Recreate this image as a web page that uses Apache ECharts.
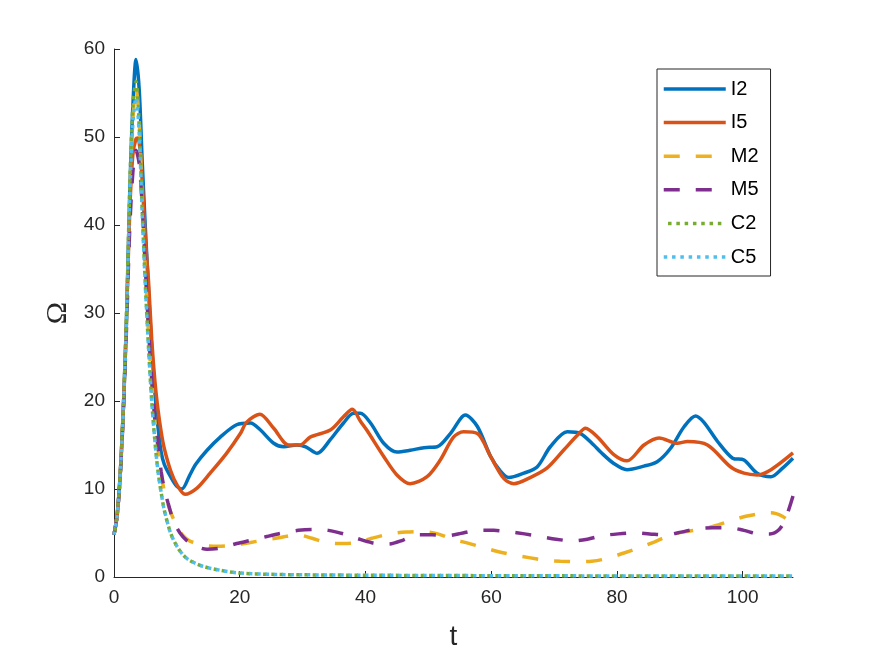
<!DOCTYPE html>
<html>
<head>
<meta charset="utf-8">
<script src="https://cdn.jsdelivr.net/npm/echarts@6/dist/echarts.min.js"></script>
<style>
html,body{margin:0;padding:0;background:#fff;}
#c{width:875px;height:656px;}
</style>
</head>
<body>
<div id="c"></div>
<script>
const seriesNames = ['I2','I5','M2','M5','C2','C5'];
const xTicks = [0,20,40,60,80,100];

const tI2 = [0,0.5,1,1.5,2,2.5,3,3.5,4,4.5,5,5.5,6,6.5,7,7.5,8,9,10,10.8,12,13,14.8,16.9,19.5,21.7,23.3,25.4,27,29.1,30.5,32.3,34.4,36.5,38.1,39.2,40.8,42.9,45,47.1,49.3,51.4,53.5,55.9,57.8,59.9,61.5,62.8,65.2,67.3,69.4,72.1,74.2,76.3,77.4,79.5,81.6,84.3,86.4,88.5,90.7,92.5,93.8,96,98.4,100.2,102.3,104.5,106.3,108];
const I2 = [4.8,7,11.8,19.4,29.5,43.5,53.5,58.8,55.5,47,39.5,32.5,26,21,17,14.2,12.8,11.4,10.3,10.0,11.5,12.8,14.4,15.9,17.3,17.5,16.7,15.2,14.8,15.0,14.8,14.05,15.6,17.5,18.6,18.6,17.5,15.2,14.2,14.4,14.7,14.8,16.3,18.4,17.1,13.7,12,11.3,11.8,12.5,14.8,16.5,16.3,15.0,14.2,12.9,12.2,12.6,13.1,14.6,17.1,18.3,17.6,15.4,13.5,13.3,11.8,11.4,12.35,13.5];

const tI5 = [0,0.5,1,1.5,2,2.5,3,3.5,3.8,4.2,4.6,5,5.5,6,6.5,7,7.5,8,9,10,11.3,13.2,15.3,17.9,20.1,21.1,23.2,25.4,27.8,29.6,31.2,34.4,36.5,37.9,39.2,40.2,42.9,45,47.1,49.8,51.9,54,55.6,57.8,59.9,62,63.6,66.2,68.9,71.5,73.7,75,76.9,79.5,81.6,84.3,86.7,89.6,91.2,94.4,98.1,100.2,102.3,104.5,108];
const I5 = [4.8,7,11.8,19.4,29.5,41.5,48,49.8,49.9,48,43.5,38.3,33.5,27,22.3,19,16.5,14.6,12.1,10.5,9.4,10.1,11.8,14.05,16.3,17.6,18.5,16.9,15.0,15.0,15.9,16.7,18.2,19.05,17.7,16.7,13.7,11.6,10.6,11.4,13.3,15.9,16.5,16.3,13.7,11.2,10.6,11.3,12.4,14.4,16.1,16.9,15.9,13.9,13.2,15.0,15.8,15.2,15.4,15.0,12.5,11.8,11.6,12.2,14.1];

const tM2 = [0,0.5,1,1.5,2,2.5,3,3.5,4,4.5,5,5.5,6,6.5,7,7.5,8,9,10,11,12,14.2,16.5,19,21.5,23.8,26.5,29.1,31.5,33.9,36.5,38.6,41,43.9,46.5,49,51.5,53.8,56,58.5,61,63.6,66,68.6,71,73.7,76,78.4,81,83.5,86,88.3,90.5,93,95.5,98.1,100.5,102.8,104.5,106.3,108];
const M2 = [4.8,7,11.8,19.4,29.5,43,52,55.5,52,42.5,34.5,27.5,22,17.8,14.5,11.8,9.8,7.4,5.8,4.7,4.1,3.6,3.5,3.6,3.9,4.2,4.5,4.8,4.4,3.9,3.8,3.9,4.4,4.9,5.1,5.15,4.9,4.3,3.9,3.4,2.9,2.5,2.2,1.9,1.8,1.74,1.8,2.1,2.7,3.3,4.0,4.7,5.1,5.4,5.8,6.4,6.9,7.2,7.3,6.9,6.0];

const tM5 = [0,0.5,1,1.5,2,2.5,3,3.5,4,4.5,5,5.5,6,6.5,7,7.5,8,8.6,9.5,10.5,11.5,13,14.8,17,19.5,22,24.3,26.8,29.3,31.7,34.1,36.5,38.6,41,43.7,46,48.2,50.6,53,55.5,58,60.4,62.8,65.3,67.8,70.3,72.9,75.3,77.7,80.2,82.7,85.2,87.7,90.2,92.8,95.3,97.8,100.2,102.6,104.3,105.8,106.8,108];
const M5 = [4.8,7,11.6,19,28.5,39.5,46,48.5,47,42,35,28,22.5,18,15,12,10,8.4,6.3,5.0,4.2,3.5,3.15,3.3,3.8,4.2,4.6,5.0,5.3,5.4,5.3,4.9,4.4,3.9,3.75,4.2,4.8,4.8,4.7,5.0,5.3,5.3,5.15,4.9,4.6,4.3,4.1,4.3,4.7,4.9,5.0,4.9,4.8,5.1,5.5,5.6,5.6,5.3,4.9,4.9,5.4,6.6,9.2];

const tC = [0,0.5,1,1.5,2,2.5,3,3.5,4,4.5,5,5.5,6,6.5,7,7.5,8,9,10,11,12,14,17,20,25,30,40,60,80,108];
const C2 = [4.8,7,11.8,19.6,30,44,53.5,56.3,51.5,41.5,33,26,20,15.5,12,9.6,7.6,5,3.5,2.5,1.9,1.25,0.75,0.45,0.3,0.25,0.2,0.15,0.12,0.1];
const C5 = [4.8,7,11.8,19.4,29.5,43,51.5,54.5,50.5,41,33,26,20,15.5,12,9.6,7.6,5,3.5,2.5,1.9,1.25,0.75,0.45,0.3,0.25,0.2,0.15,0.12,0.1];

const colors = ['#0072BD','#D95319','#EDB120','#7E2F8E','#77AC30','#4DBEEE'];
const zip = (t, v) => t.map((x, i) => [x, v[i]]);
const dataSets = [zip(tI2,I2), zip(tI5,I5), zip(tM2,M2), zip(tM5,M5), zip(tC,C2), zip(tC,C5)];
const dashes = ['solid','solid',[16,16],[16,16],[3.5,4.8],[3.5,4.8]];
const offsets = [0,0,0,0,4,0];

const font = 'Liberation Sans, Arial, Helvetica, sans-serif';
const axisColor = '#262626';

const chart = echarts.init(document.getElementById('c'), null, {renderer:'canvas'});
chart.setOption({
  animation: false,
  backgroundColor: '#ffffff',
  color: colors,
  grid: {left:114, right:82, top:49, bottom:79, containLabel:false},
  xAxis: {
    type:'value', min:0, max:108,
    name:'t', nameLocation:'middle', nameGap:46,
    nameTextStyle:{fontSize:28, color:axisColor, fontFamily:font},
    axisLine:{show:true, onZero:false, lineStyle:{color:axisColor, width:1}},
    axisTick:{show:true, inside:true, length:6, customValues:xTicks, lineStyle:{color:axisColor}},
    axisLabel:{show:true, customValues:xTicks, fontSize:19, color:axisColor, margin:11, fontFamily:font},
    splitLine:{show:false}
  },
  yAxis: {
    type:'value', min:0, max:60, interval:10,
    name:'Ω', nameLocation:'middle', nameGap:40, nameRotate:90,
    nameTextStyle:{fontSize:30, color:axisColor, fontFamily:'Liberation Serif, Times New Roman, serif'},
    axisLine:{show:true, onZero:false, lineStyle:{color:axisColor, width:1}},
    axisTick:{show:true, inside:true, length:6, lineStyle:{color:axisColor}},
    axisLabel:{show:true, fontSize:19, color:axisColor, margin:9, fontFamily:font},
    splitLine:{show:false}
  },
  legend: {
    show:true, orient:'vertical', left:657, top:69,
    padding:[10,12,9,5], itemGap:13.6, itemWidth:62, itemHeight:14,
    backgroundColor:'#ffffff', borderColor:axisColor, borderWidth:1, borderRadius:0,
    itemStyle:{opacity:0},
    lineStyle:{width:3.5},
    textStyle:{fontSize:20, color:'#000', fontFamily:font, lineHeight:20},
    data: seriesNames
  },
  series: seriesNames.map((n, i) => ({
    name:n, type:'line', data:dataSets[i],
    symbol:'none', showSymbol:false, smooth:0.3, clip:true,
    lineStyle:{color:colors[i], width:3.5, type:dashes[i], dashOffset:offsets[i], cap:'butt'},
    itemStyle:{color:colors[i]},
    emphasis:{disabled:true}
  }))
});
</script>
</body>
</html>
